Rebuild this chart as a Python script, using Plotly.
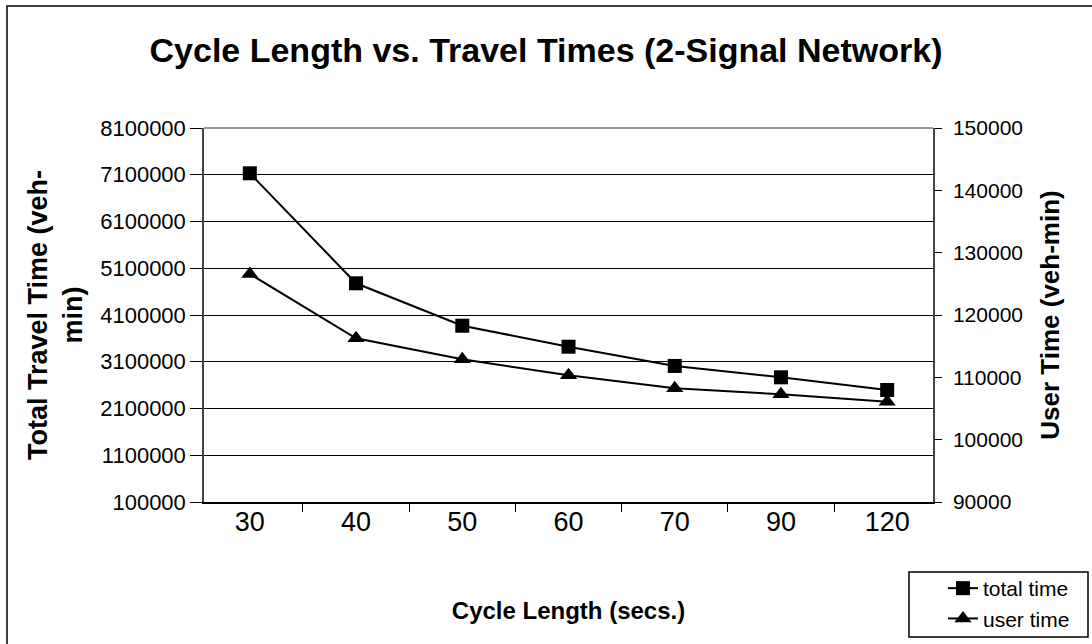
import plotly.graph_objects as go

# Cycle length categories (seconds)
cycle_length = ["30", "40", "50", "60", "70", "90", "120"]

# Total travel time, veh-min (left axis)
total_time = [7131000, 4778000, 3871000, 3422000, 3010000, 2767000, 2496000]

# User time, veh-min (right axis)
user_time = [126580, 116260, 112890, 110330, 108240, 107280, 106090]

left_ticks = [100000, 1100000, 2100000, 3100000, 4100000, 5100000, 6100000, 7100000, 8100000]
right_ticks = [90000, 100000, 110000, 120000, 130000, 140000, 150000]

W, H = 1092, 644
L, R, T, B = 204, 933, 128, 502


def px(xp):
    return (xp - L) / (R - L)


def py(yp):
    return (B - yp) / (B - T)


FONT = "Liberation Sans, Arial, sans-serif"

fig = go.Figure()
fig.add_trace(go.Scatter(
    x=cycle_length, y=total_time, name="total time", mode="lines+markers",
    line=dict(color="black", width=2),
    marker=dict(symbol="square", size=14, color="black"),
    yaxis="y",
))
fig.add_trace(go.Scatter(
    x=cycle_length, y=user_time, name="user time", mode="lines+markers",
    line=dict(color="black", width=2),
    marker=dict(symbol="triangle-up", size=15, color="black"),
    yaxis="y2",
))

fig.update_layout(
    width=W, height=H,
    margin=dict(l=L, r=W - R, t=T, b=H - B, pad=0, autoexpand=False),
    paper_bgcolor="white", plot_bgcolor="white",
    font=dict(family=FONT, color="black"),
    title=dict(
        text="<b>Cycle Length vs. Travel Times (2-Signal Network)</b>",
        x=0.5, xref="container", xanchor="center",
        y=1 - 50 / H, yref="container", yanchor="middle",
        font=dict(size=34, family=FONT, color="black"),
    ),
    xaxis=dict(
        type="category", tickson="boundaries", ticks="outside", ticklen=8,
        tickcolor="black", tickwidth=1,
        showline=True, linecolor="black", linewidth=1.5, mirror=False,
        showgrid=False, tickfont=dict(size=27, family=FONT),
        ticklabelstandoff=-5,
        automargin=False,
        title=dict(text="<b>Cycle Length (secs.)</b>", font=dict(size=24, family=FONT), standoff=66),
    ),
    yaxis=dict(
        range=[100000, 8100000], tickvals=left_ticks,
        ticktext=[str(v) for v in left_ticks],
        ticks="outside", ticklen=12, tickcolor="black",
        showline=True, linecolor="#444", linewidth=1.5,
        showgrid=True, gridcolor="black", gridwidth=1,
        zeroline=False, tickfont=dict(size=22, family=FONT),
        automargin=False,
        title=dict(text="<b>Total Travel Time (veh-<br>min)</b>", font=dict(size=27, family=FONT), standoff=10),
    ),
    yaxis2=dict(
        overlaying="y", side="right",
        range=[90000, 150000], tickvals=right_ticks,
        ticktext=[str(v) for v in right_ticks],
        ticks="outside", ticklen=7, tickcolor="black",
        showline=True, linecolor="#444", linewidth=1.5,
        showgrid=False, zeroline=False, tickfont=dict(size=21, family=FONT),
        ticklabelstandoff=7,
        automargin=False,
        title=dict(text="<b>User Time (veh-min)</b>", font=dict(size=26, family=FONT), standoff=19),
    ),
    legend=dict(
        x=px(943), y=py(568), xanchor="left", yanchor="top",
        bgcolor="rgba(0,0,0,0)", borderwidth=0,
        font=dict(size=21, family=FONT),
        tracegroupgap=0,
    ),
    showlegend=True,
)

# top edge of the plot area
fig.add_shape(type="line", xref="paper", yref="paper", x0=0, x1=1, y0=1, y1=1,
              line=dict(color="#777", width=1.5))
# legend frame
fig.add_shape(type="rect", xref="paper", yref="paper",
              x0=px(909), x1=px(1088), y0=py(637), y1=py(572),
              line=dict(color="black", width=1.5), fillcolor="white", layer="below")
# outer chart border
fig.add_shape(type="rect", xref="paper", yref="paper",
              x0=px(7), x1=px(1096), y0=py(648), y1=py(6),
              line=dict(color="black", width=1.5), layer="below")

fig.write_html("out.html")
